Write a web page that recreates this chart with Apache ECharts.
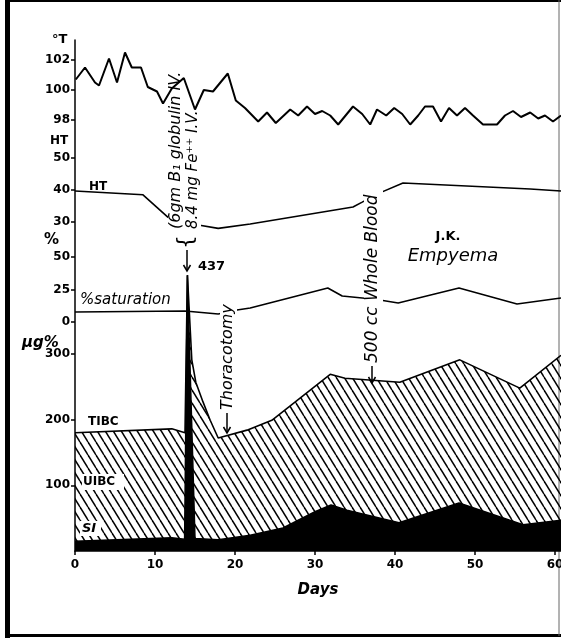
<!DOCTYPE html>
<html>
<head>
<meta charset="utf-8">
<script src="https://cdn.jsdelivr.net/npm/echarts@6/dist/echarts.min.js"></script>
<style>
html,body{margin:0;padding:0;background:#fff;}
#main{width:561px;height:641px;}
</style>
</head>
<body>
<div id="main"></div>
<script>
// temperature (deg F), one reading a day roughly
var tempDays = [0.1,1.25,2.5,3,4.25,5.25,6.25,7.1,8.25,9.1,10.25,11,12.1,13.6,15,16.1,17.25,19.1,20.1,21.25,22.9,24,25.1,26.9,27.9,29,30,30.9,31.9,32.9,34.75,35.9,36.9,37.75,38.9,39.9,40.9,41.9,42.9,43.75,44.75,45.75,46.75,47.75,48.75,49.75,51,52.75,53.75,54.75,55.75,56.9,57.9,58.75,59.75,60.75];
var tempVals = [100.7,101.5,100.5,100.3,102.1,100.5,102.5,101.5,101.5,100.2,99.9,99.1,100.1,100.8,98.7,100,99.9,101.1,99.3,98.8,97.9,98.5,97.8,98.7,98.3,98.9,98.4,98.6,98.3,97.7,98.9,98.4,97.7,98.7,98.3,98.8,98.4,97.7,98.3,98.9,98.9,97.9,98.8,98.3,98.8,98.3,97.7,97.7,98.3,98.6,98.2,98.5,98.1,98.3,97.9,98.3];

// hematocrit %
var htDays = [0,8.5,11.6,15.6,17.9,21.9,34.75,35.9,38.1,41,56.9,60.75];
var htVals = [39.7,38.5,31.5,29,28,29.4,34.7,36.2,39.1,42.2,40.3,39.7];

// % saturation
var satDays = [0,13.75,17.9,20.25,21.9,31.6,33.4,35.9,38.1,40.4,48,55.25,60.75];
var satVals = [7.7,8.5,6.2,9.2,10.8,26.2,20,18.5,16.9,14.6,26.2,13.8,18.5];

// TIBC ug%
var tibcDays = [0,12.1,13.75,14.05,14.6,15.1,16,16.9,17.9,21.5,24.6,31.9,33.75,40.6,48.1,55.6,60.75];
var tibcVals = [180,186,180,420,291,257,227,199,172,184,199,269,263,257,291,248,298];

// serum iron ug%
var siDays = [0,12.1,13.7,14.05,15,17.9,21.9,26,30,32,34,40.5,48,56,60.75];
var siVals = [15,20,18,420,19,17,24,35,60,70,62,43,73,40,47];

var dayTicks = [0,10,20,30,40,50,60];

function zip(a,b){
  return a.map(function(d,i){return [d,b[i]];});
}

function hatch(){
  var w = 8, h = 13;
  var c = document.createElement('canvas');
  c.width = w; c.height = h;
  var ctx = c.getContext('2d');
  ctx.strokeStyle = '#000';
  ctx.lineWidth = 1.5;
  for(var k=-1;k<=1;k++){
    ctx.beginPath();
    ctx.moveTo(k*w,0);
    ctx.lineTo(k*w+w,h);
    ctx.stroke();
  }
  return c;
}

var lblFont = {color:'#000',fontWeight:'bold',fontSize:12,fontFamily:'DejaVu Sans',margin:5};

function yAx(grid,min,max,vals,line){
  return {
    type:'value',gridIndex:grid,min:min,max:max,
    axisLine:{show:!!line,lineStyle:{color:'#000',width:1.5}},
    splitLine:{show:false},
    axisTick:{show:true,length:4,customValues:vals,lineStyle:{color:'#000',width:1.5}},
    axisLabel:Object.assign({customValues:vals},lblFont)
  };
}

function xAx(grid,show){
  return {
    type:'value',gridIndex:grid,min:0,max:60.75,show:show,
    axisLine:{show:true,onZero:false,lineStyle:{color:'#000',width:1.5}},
    splitLine:{show:false},
    axisTick:{length:4,customValues:dayTicks,lineStyle:{color:'#000',width:1.5}},
    axisLabel:Object.assign({customValues:dayTicks},lblFont,{margin:8})
  };
}

function txt(x,y,s,font,opt){
  var o = {type:'text',x:x,y:y,z:6,style:Object.assign({text:s,font:font,fill:'#000',align:'left',verticalAlign:'middle'},opt&&opt.style)};
  if(opt&&opt.rotation) o.rotation = opt.rotation;
  return o;
}

function box(x,y,w,h){
  return {type:'rect',z:4,shape:{x:x,y:y,width:w,height:h},style:{fill:'#fff'}};
}

function arrow(x,y1,y2){
  return [
    {type:'line',z:6,shape:{x1:x,y1:y1,x2:x,y2:y2},style:{stroke:'#000',lineWidth:1.5}},
    {type:'polyline',z:6,shape:{points:[[x-3.5,y2-6],[x,y2],[x+3.5,y2-6]]},style:{stroke:'#000',lineWidth:1.5,fill:null}}
  ];
}

var R = Math.PI/2;
var bold = 'bold 12px "DejaVu Sans"';

var graphics = [
  {type:'rect',shape:{x:5,y:0,width:5,height:638},style:{fill:'#000'}},
  {type:'rect',shape:{x:5,y:634,width:556,height:3},style:{fill:'#000'}},
  {type:'rect',shape:{x:5,y:0,width:556,height:2},style:{fill:'#000'}},
  {type:'line',shape:{x1:559,y1:0,x2:559,y2:636},style:{stroke:'#666',lineWidth:1}},
  // white gaps where the notes cross the curves
  box(168,64,33,185),
  box(220,292,17,121),
  box(364,176,19,189),
  box(82,474,42,16),
  box(80,521,21,15),
  txt(52,40,'°T','bold 13px "DejaVu Sans"'),
  txt(50,141,'HT',bold),
  txt(44,240,'%','bold 15px "DejaVu Sans"'),
  txt(22,343,'µg%','italic bold 15px "DejaVu Sans"'),
  txt(89,187,'HT',bold),
  txt(80,300,'%saturation','italic 15px "DejaVu Sans"'),
  txt(88,422,'TIBC',bold),
  txt(83,482,'UIBC',bold),
  txt(82,529,'SI','italic bold 13px "DejaVu Sans"'),
  txt(176,229,'(6gm B\u2081 globulin IV.','italic 16px "DejaVu Sans"',{rotation:R}),
  txt(193,229,'8.4 mg Fe\u207A\u207A I.V.','italic 15px "DejaVu Sans"',{rotation:R}),
  txt(186,242,'{','22px "DejaVu Sans"',{rotation:R,style:{align:'center'}}),
  txt(198,267,'437','bold 13px "DejaVu Sans"'),
  txt(228,410,'Thoracotomy','italic 16px "DejaVu Sans"',{rotation:R}),
  txt(373,363,'500 cc Whole Blood','italic 17px "DejaVu Sans"',{rotation:R}),
  txt(448,237,'J.K.','bold 13px "DejaVu Sans"',{style:{align:'center'}}),
  txt(453,256,'Empyema','italic 18px "DejaVu Sans"',{style:{align:'center'}}),
  txt(318,590,'Days','italic bold 15px "DejaVu Sans"',{style:{align:'center'}})
].concat(arrow(187,250,271),arrow(227,413,433),arrow(372,366,383));

var option = {
  animation:false,
  backgroundColor:'#fff',
  grid:[
    {left:75,width:486,top:42,height:99,outerBoundsMode:'none'},
    {left:75,width:486,top:141,height:99,outerBoundsMode:'none'},
    {left:75,width:486,top:240,height:98,outerBoundsMode:'none'},
    {left:75,width:486,top:40,height:511,outerBoundsMode:'none'}
  ],
  xAxis:[xAx(0,false),xAx(1,false),xAx(2,false),xAx(3,true)],
  yAxis:[
    yAx(0,96.6,103.2,[98,100,102]),
    yAx(1,24.375,55.3125,[30,40,50]),
    yAx(2,-12.31,63.08,[0,25,50]),
    yAx(3,0,778,[100,200,300],true)
  ],
  series:[
    {type:'line',xAxisIndex:0,yAxisIndex:0,z:10,silent:true,showSymbol:false,
      data:zip(tempDays,tempVals),lineStyle:{color:'#000',width:2}},
    {type:'line',xAxisIndex:1,yAxisIndex:1,silent:true,showSymbol:false,
      data:zip(htDays,htVals),lineStyle:{color:'#000',width:1.6}},
    {type:'line',xAxisIndex:2,yAxisIndex:2,silent:true,showSymbol:false,
      data:zip(satDays,satVals),lineStyle:{color:'#000',width:1.6}},
    {type:'line',xAxisIndex:3,yAxisIndex:3,silent:true,showSymbol:false,z:2,
      data:zip(tibcDays,tibcVals),lineStyle:{color:'#000',width:1.6},
      areaStyle:{color:{image:hatch(),repeat:'repeat'},opacity:1}},
    {type:'line',xAxisIndex:3,yAxisIndex:3,silent:true,showSymbol:false,z:3,
      data:zip(siDays,siVals),lineStyle:{color:'#000',width:1.5},
      areaStyle:{color:'#000',opacity:1}}
  ],
  graphic:graphics
};

var myChart = echarts.init(document.getElementById('main'));
myChart.setOption(option);
</script>
</body>
</html>
